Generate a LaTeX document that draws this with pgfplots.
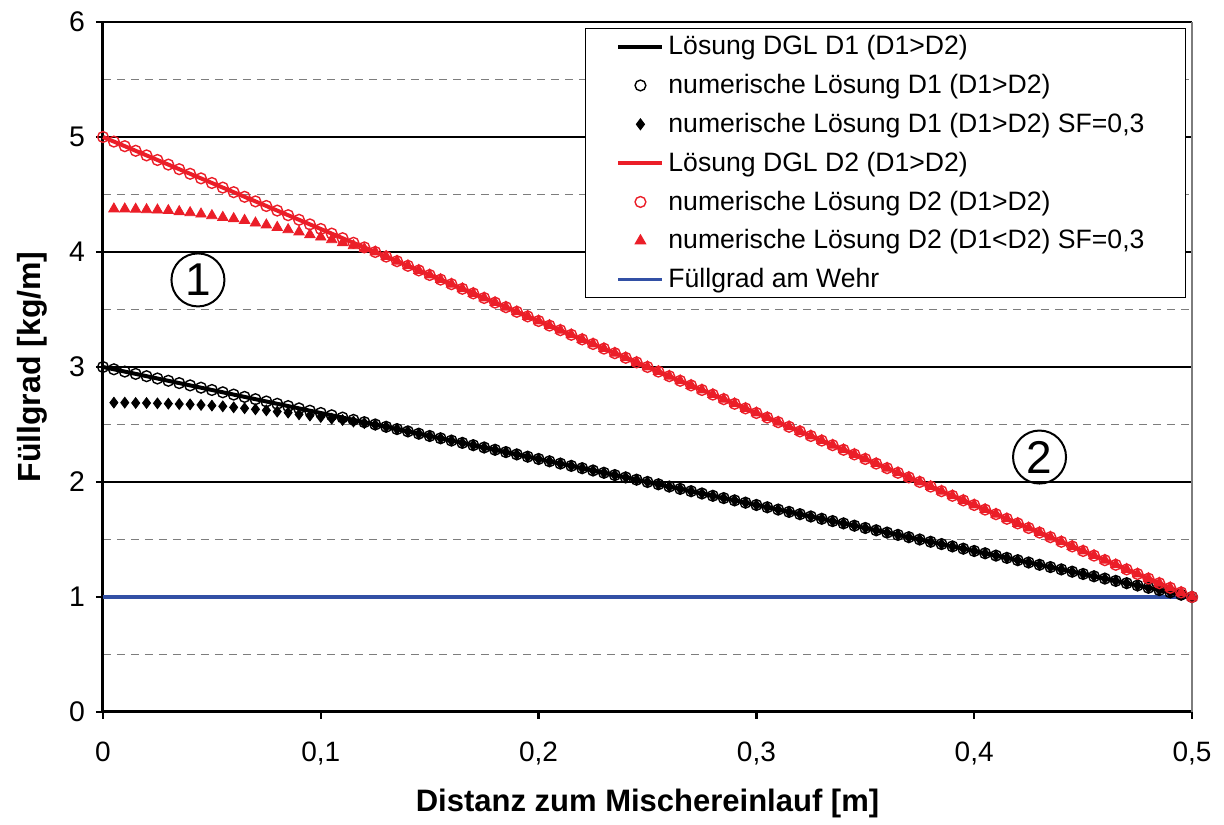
\documentclass[border=0pt]{standalone}
\usepackage{pgfplots}
\pgfplotsset{compat=1.18}
\usepackage{pgfplotstable}
\usepackage{fontspec}
\setmainfont{Liberation Sans}
\definecolor{myred}{RGB}{235,30,40}
\definecolor{myblue}{RGB}{50,80,165}
\definecolor{gridgray}{RGB}{125,125,125}

\pgfplotstableread{
x d1 d2 s1 s2
0.000 3.00 5.00 nan nan
0.005 2.98 4.96 2.690 4.374
0.010 2.96 4.92 2.690 4.374
0.015 2.94 4.88 2.687 4.372
0.020 2.92 4.84 2.687 4.368
0.025 2.90 4.80 2.684 4.365
0.030 2.88 4.76 2.681 4.360
0.035 2.86 4.72 2.678 4.351
0.040 2.84 4.68 2.675 4.342
0.045 2.82 4.64 2.670 4.330
0.050 2.80 4.60 2.664 4.316
0.055 2.78 4.56 2.658 4.301
0.060 2.76 4.52 2.649 4.290
0.065 2.74 4.48 2.641 4.275
0.070 2.72 4.44 2.632 4.252
0.075 2.70 4.40 2.623 4.235
0.080 2.68 4.36 2.612 4.214
0.085 2.66 4.32 2.603 4.194
0.090 2.64 4.28 2.588 4.174
0.095 2.62 4.24 2.577 4.151
0.100 2.60 4.20 2.565 4.130
0.105 2.58 4.16 2.551 4.107
0.110 2.56 4.12 2.539 4.080
0.115 2.54 4.08 2.526 4.055
0.120 2.52 4.04 2.512 4.028
0.125 2.50 4.00 2.498 4.000
0.130 2.48 3.96 2.480 3.960
0.135 2.46 3.92 2.46 3.92
0.140 2.44 3.88 2.44 3.88
0.145 2.42 3.84 2.42 3.84
0.150 2.40 3.80 2.40 3.80
0.155 2.38 3.76 2.38 3.76
0.160 2.36 3.72 2.36 3.72
0.165 2.34 3.68 2.34 3.68
0.170 2.32 3.64 2.32 3.64
0.175 2.30 3.60 2.30 3.60
0.180 2.28 3.56 2.28 3.56
0.185 2.26 3.52 2.26 3.52
0.190 2.24 3.48 2.24 3.48
0.195 2.22 3.44 2.22 3.44
0.200 2.20 3.40 2.20 3.40
0.205 2.18 3.36 2.18 3.36
0.210 2.16 3.32 2.16 3.32
0.215 2.14 3.28 2.14 3.28
0.220 2.12 3.24 2.12 3.24
0.225 2.10 3.20 2.10 3.20
0.230 2.08 3.16 2.08 3.16
0.235 2.06 3.12 2.06 3.12
0.240 2.04 3.08 2.04 3.08
0.245 2.02 3.04 2.02 3.04
0.250 2.00 3.00 2.00 3.00
0.255 1.98 2.96 1.98 2.96
0.260 1.96 2.92 1.96 2.92
0.265 1.94 2.88 1.94 2.88
0.270 1.92 2.84 1.92 2.84
0.275 1.90 2.80 1.90 2.80
0.280 1.88 2.76 1.88 2.76
0.285 1.86 2.72 1.86 2.72
0.290 1.84 2.68 1.84 2.68
0.295 1.82 2.64 1.82 2.64
0.300 1.80 2.60 1.80 2.60
0.305 1.78 2.56 1.78 2.56
0.310 1.76 2.52 1.76 2.52
0.315 1.74 2.48 1.74 2.48
0.320 1.72 2.44 1.72 2.44
0.325 1.70 2.40 1.70 2.40
0.330 1.68 2.36 1.68 2.36
0.335 1.66 2.32 1.66 2.32
0.340 1.64 2.28 1.64 2.28
0.345 1.62 2.24 1.62 2.24
0.350 1.60 2.20 1.60 2.20
0.355 1.58 2.16 1.58 2.16
0.360 1.56 2.12 1.56 2.12
0.365 1.54 2.08 1.54 2.08
0.370 1.52 2.04 1.52 2.04
0.375 1.50 2.00 1.50 2.00
0.380 1.48 1.96 1.48 1.96
0.385 1.46 1.92 1.46 1.92
0.390 1.44 1.88 1.44 1.88
0.395 1.42 1.84 1.42 1.84
0.400 1.40 1.80 1.40 1.80
0.405 1.38 1.76 1.38 1.76
0.410 1.36 1.72 1.36 1.72
0.415 1.34 1.68 1.34 1.68
0.420 1.32 1.64 1.32 1.64
0.425 1.30 1.60 1.30 1.60
0.430 1.28 1.56 1.28 1.56
0.435 1.26 1.52 1.26 1.52
0.440 1.24 1.48 1.24 1.48
0.445 1.22 1.44 1.22 1.44
0.450 1.20 1.40 1.20 1.40
0.455 1.18 1.36 1.18 1.36
0.460 1.16 1.32 1.16 1.32
0.465 1.14 1.28 1.14 1.28
0.470 1.12 1.24 1.12 1.24
0.475 1.10 1.20 1.10 1.20
0.480 1.08 1.16 1.08 1.16
0.485 1.06 1.12 1.06 1.12
0.490 1.04 1.08 1.04 1.08
0.495 1.02 1.04 1.02 1.04
0.500 1.00 1.00 1.00 1.00
}\data

\pgfplotstableread{
x y
0.0 1
0.5 1
}\wehr

\pgfplotsset{
  linelegend/.style={legend image code/.code={\draw[##1] (0bp,0bp) -- (22bp,0bp);}},
  marklegend/.style={legend image code/.code={\draw[mark repeat=2,mark phase=2,##1] plot coordinates {(0bp,0bp) (11bp,0bp) (22bp,0bp)};}},
}

\begin{document}
\begin{tikzpicture}
\begin{axis}[
  scale only axis,
  width=544.5bp, height=345bp,
  xmin=0, xmax=0.5, ymin=0, ymax=6,
  axis x line*=bottom, axis y line*=left,
  axis line style={line width=1.5bp, black},
  xtick={0,0.1,0.2,0.3,0.4,0.5},
  ytick={0,1,2,3,4,5,6},
  minor ytick={0.5,1.5,2.5,3.5,4.5,5.5},
  minor tick length=0pt,
  major tick length=3.5bp,
  tick align=outside,
  tick style={line width=1.2bp, black},
  ymajorgrids, yminorgrids,
  major grid style={line width=0.6bp, black},
  minor grid style={line width=0.6bp, gridgray, dash pattern=on 4bp off 3bp},
  /pgf/number format/assume math mode=true,
  /pgf/number format/use comma,
  /pgf/number format/fixed,
  xticklabel style={font=\fontsize{14bp}{16bp}\selectfont, yshift=-8bp},
  yticklabel style={font=\fontsize{14.2bp}{16bp}\selectfont, xshift=-2bp},
  xlabel={\textbf{Distanz zum Mischereinlauf [m]}},
  ylabel={\textbf{Füllgrad [kg/m]}},
  label style={font=\fontsize{15.5bp}{18bp}\selectfont},
  xlabel style={yshift=-5bp},
  ylabel style={yshift=4bp, font=\fontsize{16bp}{18bp}\selectfont},
  legend cell align=left,
  legend style={at={(1,1)}, anchor=north east, xshift=-3bp, yshift=-3bp,
    font=\fontsize{13.3bp}{16bp}\selectfont, draw=black, line width=0.5bp,
    inner xsep=15.5bp, inner ysep=1.5bp, row sep=4.3bp,
    /tikz/every even column/.append style={column sep=2bp}},
  clip=false,
]
\addplot[black, line width=2bp, linelegend] table[x=x, y=d1] {\data};
\addlegendentry{Lösung DGL D1 (D1>D2)}
\addplot[only marks, mark=o, mark size=2.7bp, black, mark options={line width=0.7bp}, marklegend] table[x=x, y=d1] {\data};
\addlegendentry{numerische Lösung D1 (D1>D2)}
\addplot[only marks, mark=diamond*, mark size=2.7bp, black, marklegend] table[x=x, y=s1] {\data};
\addlegendentry{numerische Lösung D1 (D1>D2) SF=0,3}
\addplot[myred, line width=2bp, linelegend] table[x=x, y=d2] {\data};
\addlegendentry{Lösung DGL D2 (D1>D2)}
\addplot[only marks, mark=o, mark size=2.7bp, myred, mark options={line width=0.7bp}, marklegend] table[x=x, y=d2] {\data};
\addlegendentry{numerische Lösung D2 (D1>D2)}
\addplot[only marks, mark=triangle*, mark size=3bp, myred, marklegend] table[x=x, y=s2] {\data};
\addlegendentry{numerische Lösung D2 (D1<D2) SF=0,3\hspace*{3bp}}
\addplot[myblue, line width=1.8bp, linelegend] table[x=x, y=y] {\wehr};
\addlegendentry{Füllgrad am Wehr}
\draw[gridgray, line width=0.8bp] (rel axis cs:1,0) -- (rel axis cs:1,1);
\node[circle, draw, line width=1bp, minimum size=26.5bp, inner sep=0pt, font=\fontsize{23bp}{23bp}\selectfont] at (axis cs:0.0436,3.757) {1};
\node[circle, draw, line width=1bp, minimum size=26.5bp, inner sep=0pt, font=\fontsize{23bp}{23bp}\selectfont] at (axis cs:0.430,2.217) {2};
\end{axis}
\path (current axis.south west) ++(-51.5bp,-54.5bp) coordinate (bl);
\path (current axis.north east) ++(16bp,11bp) coordinate (tr);
\useasboundingbox (bl) rectangle (tr);
\end{tikzpicture}
\end{document}
